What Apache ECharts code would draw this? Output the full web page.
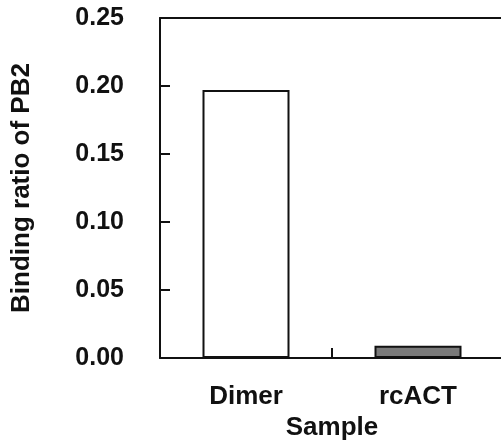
<!DOCTYPE html>
<html>
<head>
<meta charset="utf-8">
<script src="https://cdn.jsdelivr.net/npm/echarts@6/dist/echarts.min.js"></script>
<style>
  html, body { margin: 0; padding: 0; background: #fff; }
  #chart { width: 501px; height: 443px; }
</style>
</head>
<body>
<div id="chart"></div>
<script>
// data
const categories = ['Dimer', 'rcACT'];
const bindingRatio = [0.197, 0.009];
const barColors = ['#ffffff', '#7a7a7a'];

const font = 'Liberation Sans, Arial, Helvetica, sans-serif';
const chart = echarts.init(document.getElementById('chart'));

chart.setOption({
  animation: false,
  grid: { left: 160, top: 18, width: 344, height: 340, outerBoundsMode: 'none', containLabel: false },
  xAxis: [{
    type: 'category',
    data: categories,
    position: 'bottom',
    name: 'Sample',
    nameLocation: 'middle',
    nameGap: 52,
    nameTextStyle: { fontFamily: font, fontWeight: 'bold', fontSize: 26, color: '#111' },
    axisLine: { lineStyle: { color: '#111', width: 2 } },
    axisTick: { show: true, alignWithLabel: false, inside: true, interval: 0, length: 10, lineStyle: { color: '#111', width: 2 } },
    axisLabel: { margin: 26, fontFamily: font, fontWeight: 'bold', fontSize: 26, color: '#111' }
  }, {
    type: 'category',
    data: categories,
    position: 'top',
    axisLine: { lineStyle: { color: '#111', width: 2 } },
    axisTick: { show: false },
    axisLabel: { show: false }
  }],
  yAxis: {
    type: 'value',
    min: 0,
    max: 0.25,
    interval: 0.05,
    name: 'Binding ratio of PB2',
    nameLocation: 'middle',
    nameGap: 125,
    nameTextStyle: { fontFamily: font, fontWeight: 'bold', fontSize: 26, color: '#111' },
    splitLine: { show: false },
    axisLine: { show: true, lineStyle: { color: '#111', width: 2 } },
    axisTick: { show: true, inside: true, length: 10, lineStyle: { color: '#111', width: 2 } },
    axisLabel: {
      margin: 36,
      fontFamily: font, fontWeight: 'bold', fontSize: 25, color: '#111',
      formatter: v => v.toFixed(2)
    }
  },
  series: [{
    type: 'bar',
    barWidth: 87,
    data: bindingRatio.map((v, i) => ({
      value: v,
      itemStyle: { color: barColors[i], borderColor: '#111', borderWidth: 2 }
    }))
  }]
});
</script>
</body>
</html>
